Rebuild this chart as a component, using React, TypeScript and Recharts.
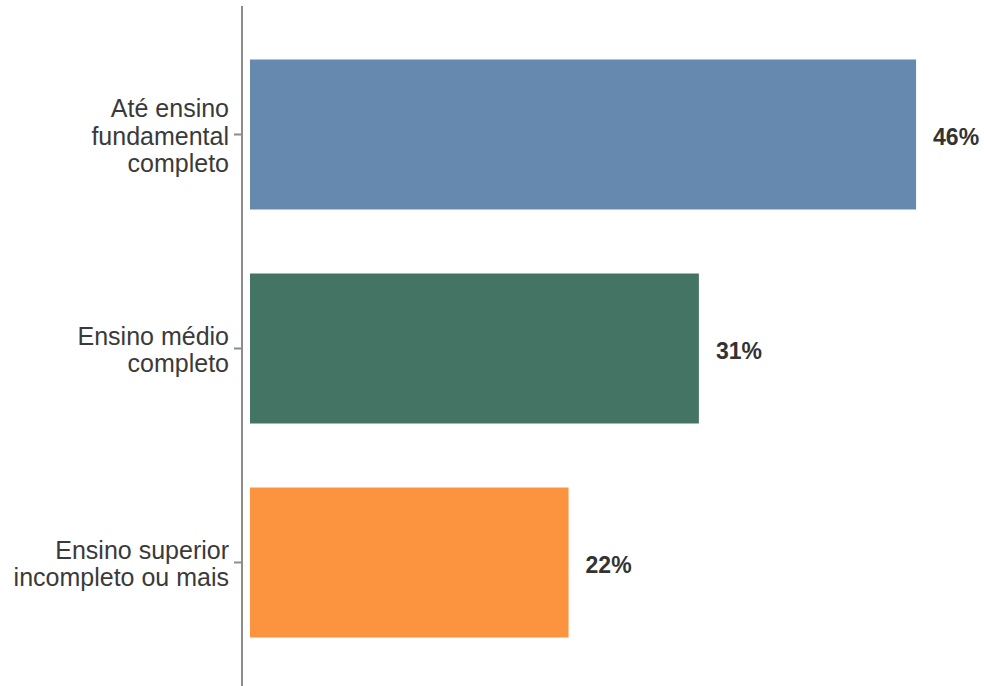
import { BarChart, Bar, XAxis, YAxis, Cell, LabelList } from 'recharts'

// escolaridade -> percentual
const categories = ['Até ensino\nfundamental\ncompleto', 'Ensino médio\ncompleto', 'Ensino superior\nincompleto ou mais']
const values = [46, 31, 22]
const colors = ['#6689B0', '#447564', '#FB933F']

const data = categories.map((name, i) => ({ name, value: values[i] }))

const FONT = '"Liberation Sans", Arial, sans-serif'

function CategoryTick(props: any) {
  const { x, y, payload } = props
  const lines = String(payload.value).split('\n')
  const step = 27.5
  return (
    <text x={x} y={y} textAnchor="end" fill="#3a3a3a" fontSize={25} fontFamily={FONT}>
      {lines.map((l, i) => (
        <tspan key={i} x={x} y={y + 1 + (i - (lines.length - 1) / 2) * step} dominantBaseline="central">
          {l}
        </tspan>
      ))}
    </text>
  )
}

export default function App() {
  return (
    <div style={{ position: 'absolute', left: 0, top: 0, background: '#fff' }}>
      <BarChart
        width={984}
        height={686}
        data={data}
        layout="vertical"
        margin={{ top: 6, right: 10, bottom: 0, left: 0 }}
        style={{ fontFamily: FONT }}
      >
        <XAxis type="number" hide domain={[0, 50]} padding={{ left: 8, right: 0 }} />
        <YAxis
          type="category"
          dataKey="name"
          width={242}
          padding={{ top: 21.5, bottom: 16.5 }}
          axisLine={{ stroke: '#8c8c8c', strokeWidth: 2 }}
          tickLine={{ stroke: '#8c8c8c', strokeWidth: 2 }}
          tickSize={8}
          tickMargin={5}
          tick={<CategoryTick />}
          interval={0}
        />
        <Bar dataKey="value" barSize={150} isAnimationActive={false}>
          {data.map((_, i) => (
            <Cell key={i} fill={colors[i]} />
          ))}
          <LabelList
            dataKey="value"
            position="right"
            offset={17}
            fill="#333"
            fontSize={23}
            fontWeight="bold"
            fontFamily={FONT}
            dy={2}
            formatter={(v: any) => `${v}%`}
          />
        </Bar>
      </BarChart>
    </div>
  )
}
